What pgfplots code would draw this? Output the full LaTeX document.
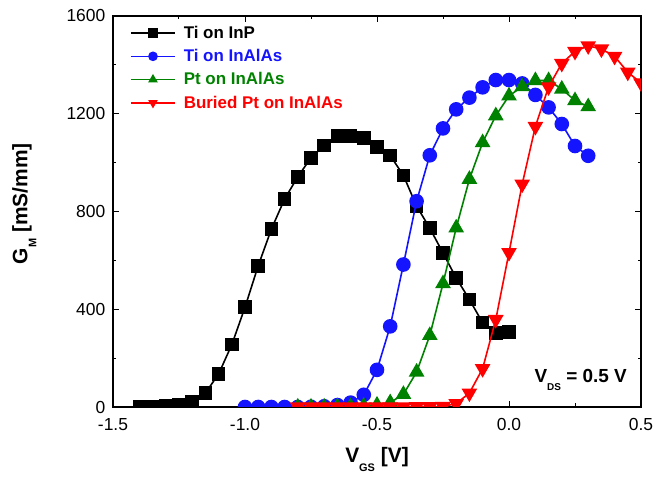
\documentclass[border=0pt]{standalone}
\usepackage{fontspec}
\setmainfont{Liberation Sans}
\usepackage{pgfplots}
\pgfplotsset{compat=1.18}
\definecolor{cblue}{RGB}{20,20,255}
\definecolor{cgreen}{RGB}{0,130,0}
\definecolor{cred}{RGB}{255,0,0}
\begin{document}
\begin{tikzpicture}
\path[use as bounding box] (-113bp,-70bp) rectangle (545bp,407bp);
\begin{axis}[
  at={(0,0)}, anchor=south west,
  scale only axis, width=528bp, height=391bp,
  xmin=-1.5, xmax=0.5, ymin=0, ymax=1600,
  xtick={-1.5,-1,-0.5,0,0.5},
  xticklabels={-1.5,-1.0,-0.5,0.0,0.5},
  ytick={0,400,800,1200,1600},
  minor x tick num=1, minor y tick num=1,
  tick align=inside,
  major tick length=6bp, minor tick length=3.5bp,
  axis line style={line width=1.4bp},
  every tick/.style={line width=1bp, black},
  clip marker paths=true,
  /pgf/number format/assume math mode=true,
  /pgf/number format/1000 sep={},
  ticklabel style={font=\fontsize{17.5}{20}\selectfont, inner sep=1bp},
  xticklabel style={yshift=-10bp},
  yticklabel style={xshift=-6.5bp},
  xlabel={\fontsize{21}{24}\selectfont\bfseries V\raisebox{-9bp}{\fontsize{11}{11}\selectfont\bfseries GS} [V]},
  xlabel style={at={(rel axis cs:0.5,0)}, anchor=base, yshift=-55bp},
  ylabel={\fontsize{21}{24}\selectfont\bfseries G\raisebox{-9bp}{\fontsize{11}{11}\selectfont\bfseries M} [mS/mm]},
  ylabel style={at={(axis description cs:-0.168,0.52)}, anchor=center},
  legend style={draw=none, fill=none, at={(rel axis cs:0,1)}, anchor=north west,
    xshift=14bp, yshift=-6bp, font=\fontsize{17}{20}\selectfont\bfseries, row sep=5.5bp},
  legend cell align=left,
  legend image code/.code={\draw[mark repeat=2,mark phase=2,mark size=4bp] plot coordinates {(0bp,0bp) (22bp,0bp) (44bp,0bp)}; \path (50bp,0bp);},
  every axis plot/.append style={line width=1.6bp},
]
\addplot[black, mark=square*, mark size=6bp] coordinates {
(-1.40,0)(-1.35,0)(-1.30,3)(-1.25,9)(-1.20,20)(-1.15,57)(-1.10,135)(-1.05,255)(-1.00,408)(-0.95,578)(-0.90,728)(-0.85,851)(-0.80,942)(-0.75,1020)(-0.70,1070)(-0.65,1110)(-0.60,1110)(-0.55,1100)(-0.50,1063)(-0.45,1029)(-0.40,948)(-0.35,822)(-0.30,732)(-0.25,630)(-0.20,528)(-0.15,440)(-0.10,345)(-0.05,302)(0.00,308)};
\addlegendentry{Ti on InP}
\addplot[cblue, mark=*, mark size=6.5bp] coordinates {
(-1.00,0)(-0.95,0)(-0.90,0)(-0.85,0)(-0.80,0)(-0.75,1)(-0.70,3)(-0.65,8)(-0.60,18)(-0.55,50)(-0.50,152)(-0.45,330)(-0.40,583)(-0.35,842)(-0.30,1030)(-0.25,1140)(-0.20,1218)(-0.15,1266)(-0.10,1308)(-0.05,1338)(0.00,1338)(0.05,1324)(0.10,1277)(0.15,1226)(0.20,1158)(0.25,1068)(0.30,1028)};
\addlegendentry{\textcolor{cblue}{Ti on InAlAs}}
\addplot[cgreen, mark=triangle*, mark size=7.5bp] coordinates {
(-0.80,0)(-0.75,0)(-0.70,0)(-0.65,1)(-0.60,2)(-0.55,4)(-0.50,8)(-0.45,18)(-0.40,52)(-0.35,143)(-0.30,293)(-0.25,505)(-0.20,733)(-0.15,932)(-0.10,1082)(-0.05,1192)(0.00,1273)(0.05,1311)(0.10,1336)(0.15,1336)(0.20,1301)(0.25,1254)(0.30,1229)};
\addlegendentry{\textcolor{cgreen}{Pt on InAlAs}}
\addplot[cred, mark=triangle*, mark size=7.5bp, mark options={rotate=180}] coordinates {
(-0.80,0)(-0.75,0)(-0.70,0)(-0.65,0)(-0.60,0)(-0.55,0)(-0.50,0)(-0.45,0)(-0.40,0)(-0.35,1)(-0.30,1)(-0.25,2)(-0.20,14)(-0.15,57)(-0.10,157)(-0.05,358)(0.00,632)(0.05,912)(0.10,1148)(0.15,1310)(0.20,1406)(0.25,1455)(0.30,1478)(0.35,1465)(0.40,1435)(0.45,1370)(0.50,1326)};
\addlegendentry{\textcolor{cred}{Buried Pt on InAlAs}}
\node[anchor=base east, inner sep=0pt, font=\fontsize{19}{22}\selectfont\bfseries] at (axis cs:0.447,102) {V\raisebox{-8bp}{\fontsize{10}{10}\selectfont\bfseries DS} = 0.5 V};
\end{axis}
\end{tikzpicture}
\end{document}
